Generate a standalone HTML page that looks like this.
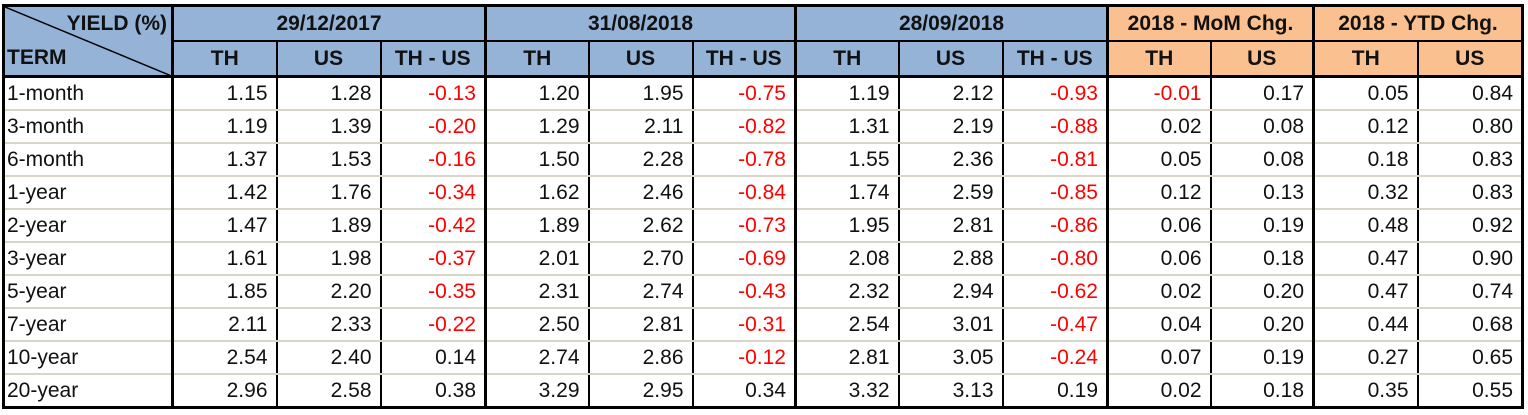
<!DOCTYPE html>
<html><head><meta charset="utf-8"><style>
body{margin:0;background:#fff;width:1528px;height:415px;overflow:hidden;position:relative;font-family:"Liberation Sans",Arial,sans-serif;}
table{position:absolute;left:2px;top:4px;border-collapse:collapse;table-layout:fixed;border:3px solid #000;}
td{padding:0 8px;font-size:21px;color:#111;white-space:nowrap;overflow:hidden;}
tr.h td{font-weight:bold;text-align:center;background:#95b3d7;height:33px;font-size:21px;}
tr.h td.o{background:#fac090;}
tr.h1 td{border-bottom:2px solid #000;}
tr.h2 td{border-bottom:3px solid #000;}
tr.d td{height:31px;text-align:right;border-bottom:2px solid #d9d5c9;border-left:2px solid #000;}
tr.d td:first-child{text-align:left;padding-left:2px;}
tr.d:last-child td{border-bottom:none;}
td.g{border-left:3px solid #000 !important;}
tr.h td{border-left:2px solid #000;}
td.r{color:#ff0000;}
</style></head><body>
<table>
<colgroup><col style="width:169px"><col style="width:104px"><col style="width:104px"><col style="width:105px"><col style="width:103px"><col style="width:104px"><col style="width:103px"><col style="width:103px"><col style="width:104px"><col style="width:105px"><col style="width:103px"><col style="width:103px"><col style="width:104px"><col style="width:105px"></colgroup>
<tr class="h h1">
<td rowspan="2" style="position:relative;text-align:left;padding:0 2px;vertical-align:bottom;border-bottom:3px solid #000">
<svg style="position:absolute;left:0;top:0" width="169" height="70"><line x1="0" y1="0" x2="169" y2="70" stroke="#000" stroke-width="1.5"/></svg>
<div style="position:absolute;right:4px;top:5px">YIELD (%)</div>
<div style="position:relative;top:-5px">TERM</div></td>
<td colspan="3" class="g">29/12/2017</td>
<td colspan="3" class="g">31/08/2018</td>
<td colspan="3" class="g">28/09/2018</td>
<td colspan="2" class="g o">2018 - MoM Chg.</td>
<td colspan="2" class="g o">2018 - YTD Chg.</td>
</tr>
<tr class="h h2">
<td class="g">TH</td><td>US</td><td>TH - US</td>
<td class="g">TH</td><td>US</td><td>TH - US</td>
<td class="g">TH</td><td>US</td><td>TH - US</td>
<td class="g o">TH</td><td class="o">US</td>
<td class="g o">TH</td><td class="o">US</td>
</tr>
<tr class="d"><td style="border-left:none">1-month</td><td class="g">1.15</td><td>1.28</td><td class="r">-0.13</td><td class="g">1.20</td><td>1.95</td><td class="r">-0.75</td><td class="g">1.19</td><td>2.12</td><td class="r">-0.93</td><td class="g r">-0.01</td><td>0.17</td><td class="g">0.05</td><td>0.84</td></tr>
<tr class="d"><td style="border-left:none">3-month</td><td class="g">1.19</td><td>1.39</td><td class="r">-0.20</td><td class="g">1.29</td><td>2.11</td><td class="r">-0.82</td><td class="g">1.31</td><td>2.19</td><td class="r">-0.88</td><td class="g">0.02</td><td>0.08</td><td class="g">0.12</td><td>0.80</td></tr>
<tr class="d"><td style="border-left:none">6-month</td><td class="g">1.37</td><td>1.53</td><td class="r">-0.16</td><td class="g">1.50</td><td>2.28</td><td class="r">-0.78</td><td class="g">1.55</td><td>2.36</td><td class="r">-0.81</td><td class="g">0.05</td><td>0.08</td><td class="g">0.18</td><td>0.83</td></tr>
<tr class="d"><td style="border-left:none">1-year</td><td class="g">1.42</td><td>1.76</td><td class="r">-0.34</td><td class="g">1.62</td><td>2.46</td><td class="r">-0.84</td><td class="g">1.74</td><td>2.59</td><td class="r">-0.85</td><td class="g">0.12</td><td>0.13</td><td class="g">0.32</td><td>0.83</td></tr>
<tr class="d"><td style="border-left:none">2-year</td><td class="g">1.47</td><td>1.89</td><td class="r">-0.42</td><td class="g">1.89</td><td>2.62</td><td class="r">-0.73</td><td class="g">1.95</td><td>2.81</td><td class="r">-0.86</td><td class="g">0.06</td><td>0.19</td><td class="g">0.48</td><td>0.92</td></tr>
<tr class="d"><td style="border-left:none">3-year</td><td class="g">1.61</td><td>1.98</td><td class="r">-0.37</td><td class="g">2.01</td><td>2.70</td><td class="r">-0.69</td><td class="g">2.08</td><td>2.88</td><td class="r">-0.80</td><td class="g">0.06</td><td>0.18</td><td class="g">0.47</td><td>0.90</td></tr>
<tr class="d"><td style="border-left:none">5-year</td><td class="g">1.85</td><td>2.20</td><td class="r">-0.35</td><td class="g">2.31</td><td>2.74</td><td class="r">-0.43</td><td class="g">2.32</td><td>2.94</td><td class="r">-0.62</td><td class="g">0.02</td><td>0.20</td><td class="g">0.47</td><td>0.74</td></tr>
<tr class="d"><td style="border-left:none">7-year</td><td class="g">2.11</td><td>2.33</td><td class="r">-0.22</td><td class="g">2.50</td><td>2.81</td><td class="r">-0.31</td><td class="g">2.54</td><td>3.01</td><td class="r">-0.47</td><td class="g">0.04</td><td>0.20</td><td class="g">0.44</td><td>0.68</td></tr>
<tr class="d"><td style="border-left:none">10-year</td><td class="g">2.54</td><td>2.40</td><td>0.14</td><td class="g">2.74</td><td>2.86</td><td class="r">-0.12</td><td class="g">2.81</td><td>3.05</td><td class="r">-0.24</td><td class="g">0.07</td><td>0.19</td><td class="g">0.27</td><td>0.65</td></tr>
<tr class="d"><td style="border-left:none">20-year</td><td class="g">2.96</td><td>2.58</td><td>0.38</td><td class="g">3.29</td><td>2.95</td><td>0.34</td><td class="g">3.32</td><td>3.13</td><td>0.19</td><td class="g">0.02</td><td>0.18</td><td class="g">0.35</td><td>0.55</td></tr>
</table>
</body></html>
